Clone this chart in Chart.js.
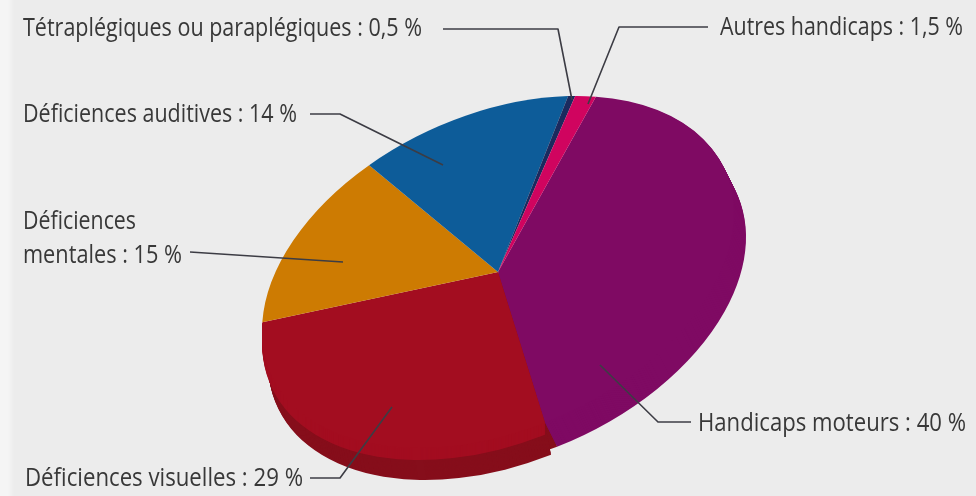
<!DOCTYPE html>
<html>
<head>
<meta charset="utf-8">
<script src="https://cdn.jsdelivr.net/npm/chart.js@4"></script>
<style>
    html, body { margin: 0; padding: 0; background: #ececec; }
    body { width: 976px; height: 496px; overflow: hidden; background: linear-gradient(to right, #f5f5f5 0, #f5f5f5 8px, #ececec 14px); }
    #chart__handicaps { display: block; filter: blur(0.7px); }
</style>
</head>
<body>
<canvas id="chart__handicaps" width="976" height="496"></canvas>
<script>
const categories = ['Handicaps moteurs', 'Déficiences visuelles', 'Déficiences mentales', 'Déficiences auditives', 'Tétraplégiques ou paraplégiques', 'Autres handicaps'];
const shares = [40, 29, 15, 14, 0.5, 1.5];
const labelLines = [
    ['Handicaps moteurs : 40 %'],
    ['Déficiences visuelles : 29 %'],
    ['Déficiences', 'mentales : 15 %'],
    ['Déficiences auditives : 14 %'],
    ['Tétraplégiques ou paraplégiques : 0,5 %'],
    ['Autres handicaps : 1,5 %']
];
const colors = ['#7f0a63', '#a30d20', '#cd7b02', '#0d5c99', '#1b2a5e', '#d0045f'];

// where each label sits and how its leader line runs, same order as categories
const callouts = [
    { text: [[698, 431, 268]], line: [[691, 422], [658, 422], [600, 365]] },
    { text: [[25, 486, 278]], line: [[310, 478], [340, 478], [392, 407]] },
    { text: [[23, 229, 113], [23, 263, 159]], line: [[190, 252], [343, 262]] },
    { text: [[23, 122, 274]], line: [[310, 114], [340, 114], [443, 165]] },
    { text: [[23, 36, 399]], line: [[443, 29], [558, 29], [572, 100]] },
    { text: [[720, 35, 243]], line: [[708, 27], [619, 27], [588, 104]] }
];

// the pie is a circle for Chart.js, this squashes it into the tilted ellipse
const tilt = { a: 236, b: -58.8, c: 0, d: 165.9, x: 498, y: 272 };

// thickness under the two front slices, swept from the face down to the offset: [slice, dx, dy, colour]
const depthLayers = [
    [1, 12, 24, '#860e1b'],
    [1, 6, 32, '#860e1b'],
    [0, 12, 24, '#7f0a63'],
    [1, 0, 12, '#a30d20']
];

function applyTilt(chart, ctx) {
    const arc = chart.getDatasetMeta(0).data[0];
    const r = arc.outerRadius;
    ctx.translate(tilt.x, tilt.y);
    ctx.transform(tilt.a / r, tilt.b / r, tilt.c / r, tilt.d / r, 0, 0);
    ctx.translate(-arc.x, -arc.y);
}

const tiltedPie = {
    id: 'tiltedPie',
    beforeDatasetsDraw(chart) {
        const ctx = chart.ctx;
        const arcs = chart.getDatasetMeta(0).data;
        depthLayers.forEach(([i, dx, dy, color]) => {
            const arc = arcs[i];
            const steps = Math.max(Math.abs(dx), Math.abs(dy));
            ctx.fillStyle = color;
            for (let s = steps; s > 0; s--) {
                ctx.save();
                ctx.translate(dx * s / steps, dy * s / steps);
                applyTilt(chart, ctx);
                ctx.beginPath();
                ctx.moveTo(arc.x, arc.y);
                ctx.arc(arc.x, arc.y, arc.outerRadius, arc.startAngle, arc.endAngle);
                ctx.closePath();
                ctx.fill();
                ctx.restore();
            }
        });
        ctx.save();
        applyTilt(chart, ctx);
    },
    afterDatasetsDraw(chart) {
        const ctx = chart.ctx;
        ctx.restore();

        ctx.save();
        ctx.strokeStyle = '#3c3c44';
        ctx.lineWidth = 1.6;
        ctx.lineJoin = 'round';
        ctx.fillStyle = '#383838';
        ctx.font = '26px "Open Sans"';
        ctx.textBaseline = 'alphabetic';
        callouts.forEach((c, i) => {
            ctx.beginPath();
            c.line.forEach(([x, y], k) => k ? ctx.lineTo(x, y) : ctx.moveTo(x, y));
            ctx.stroke();
            c.text.forEach(([x, y, w], k) => ctx.fillText(labelLines[i][k], x, y, w));
        });
        ctx.restore();
    }
};

new Chart(document.getElementById('chart__handicaps'), {
    type: 'pie',
    data: {
        labels: categories,
        datasets: [{
            data: shares,
            backgroundColor: colors,
            borderWidth: 0,
            clip: false
        }]
    },
    options: {
        responsive: false,
        animation: false,
        rotation: 24.5,
        layout: { padding: 0 },
        plugins: {
            legend: { display: false },
            tooltip: { enabled: false }
        }
    },
    plugins: [tiltedPie]
});
</script>
</body>
</html>
